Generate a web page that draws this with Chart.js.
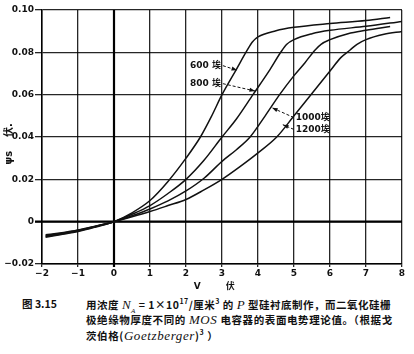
<!DOCTYPE html>
<html>
<head>
<meta charset="utf-8">
<script src="https://cdn.jsdelivr.net/npm/chart.js@4.4.1/dist/chart.umd.min.js"></script>
<style>
  body { margin: 0; background: #fff; width: 414px; height: 354px; overflow: hidden; position: relative; }
  #box { position: absolute; left: 0; top: 0; width: 414px; height: 292px; }
  .cap { position: absolute; white-space: nowrap; font-family: "Noto Sans CJK SC", sans-serif; font-weight: 700; font-size: 10.5px; color: #111; }
  .cap i { font-family: "Liberation Serif", serif; font-size: 13px; font-weight: 400; }
  .cap sup { font-size: 7px; }
  .cap sub { font-size: 7px; }
</style>
</head>
<body>
<div id="box"><canvas id="surfChart"></canvas></div>
<div class="cap" style="left:22px; top:296px;">图 3.15</div>
<div class="cap" style="left:86px; top:296px; letter-spacing:0.5px;">用浓度 <i>N<sub>A</sub></i> = 1×10<sup>17</sup>/厘米<sup>3</sup> 的 <i>P</i> 型硅衬底制作，而二氧化硅栅</div>
<div class="cap" style="left:86px; top:312px; letter-spacing:0.6px;">极绝缘物厚度不同的 <i>MOS</i> 电容器的表面电势理论值。（根据戈</div>
<div class="cap" style="left:86px; top:327px; letter-spacing:0.6px;">茨伯格(<i>Goetzberger</i>)<sup>3</sup> ）</div>
<script>
// oxide thickness 600 A
var x600 = [-1.9, -1.5, -1, -0.5, 0, 0.5, 1, 1.5, 2, 2.4, 2.7, 3, 3.4, 3.7, 3.85, 4, 4.5, 5, 6, 7, 7.67];
var y600 = [-0.0074, -0.0062, -0.0047, -0.0025, 0, 0.0042, 0.01, 0.019, 0.03, 0.04, 0.0495, 0.06, 0.072, 0.081, 0.085, 0.0873, 0.0902, 0.0918, 0.0936, 0.095, 0.0965];
// 800 A
var x800 = [-1.9, -1.5, -1, -0.5, 0, 0.5, 1, 1.5, 2, 2.5, 3, 3.4, 3.86, 4.3, 4.65, 4.8, 5, 5.5, 6, 7, 8];
var y800 = [-0.007, -0.0059, -0.0044, -0.0023, 0, 0.0035, 0.0076, 0.0133, 0.02, 0.029, 0.04, 0.0485, 0.06, 0.071, 0.0805, 0.0838, 0.086, 0.0888, 0.0904, 0.0923, 0.0946];
// 1000 A
var x1000 = [-1.9, -1.5, -1, -0.5, 0, 0.5, 1, 1.5, 2, 2.5, 3, 3.4, 3.78, 4.2, 4.6, 5, 5.3, 5.58, 5.75, 6, 6.5, 7, 7.67];
var y1000 = [-0.0066, -0.0056, -0.0041, -0.0021, 0, 0.0028, 0.006, 0.0098, 0.0145, 0.0205, 0.0285, 0.034, 0.04, 0.05, 0.06, 0.069, 0.075, 0.081, 0.0838, 0.086, 0.0888, 0.0904, 0.0922];
// 1200 A
var x1200 = [-1.9, -1.5, -1, -0.5, 0, 0.5, 1, 1.5, 2, 2.5, 3, 3.5, 4, 4.52, 5, 5.47, 6, 6.3, 6.55, 6.75, 7, 7.5, 8];
var y1200 = [-0.0062, -0.0053, -0.0039, -0.002, 0, 0.0023, 0.0048, 0.0076, 0.0105, 0.015, 0.02, 0.026, 0.0325, 0.04, 0.05, 0.06, 0.0712, 0.0775, 0.081, 0.0838, 0.086, 0.0885, 0.0899];

function pts(xs, ys) {
  return xs.map(function(x, i) { return { x: x, y: ys[i] }; });
}

function curve(xs, ys) {
  return {
    data: pts(xs, ys),
    borderColor: '#111',
    borderWidth: 1.5,
    pointRadius: 0,
    fill: false,
    cubicInterpolationMode: 'monotone'
  };
}

// thickness labels with dashed arrows (data coords)
var notes = [
  { text: '600 埃', x: 2.11, y: 0.0737, tx: 3.42, ty: 0.0715, side: 'left' },
  { text: '800 埃', x: 2.11, y: 0.0652, tx: 3.92, ty: 0.0617, side: 'left' },
  { text: '1000埃', x: 5.05, y: 0.0492, tx: 4.39, ty: 0.0538, side: 'right' },
  { text: '1200埃', x: 5.05, y: 0.0436, tx: 4.69, ty: 0.0458, side: 'right' }
];

var notePlugin = {
  id: 'notes',
  afterDatasetsDraw: function(chart) {
    var c = chart.ctx, xs = chart.scales.x, ys = chart.scales.y;
    c.save();
    c.font = 'bold 9px "DejaVu Sans", "Noto Sans CJK SC"';
    c.textBaseline = 'middle';
    c.fillStyle = '#111';
    c.strokeStyle = '#111';
    notes.forEach(function(n) {
      var px = xs.getPixelForValue(n.x), py = ys.getPixelForValue(n.y);
      var hx = xs.getPixelForValue(n.tx), hy = ys.getPixelForValue(n.ty);
      c.textAlign = 'left';
      c.fillText(n.text, px, py);
      var sx = n.side === 'left' ? px + c.measureText(n.text).width + 2 : px - 2;
      c.setLineDash([3, 2]);
      c.lineWidth = 1;
      c.beginPath();
      c.moveTo(sx, py);
      c.lineTo(hx, hy);
      c.stroke();
      c.setLineDash([]);
      var a = Math.atan2(hy - py, hx - sx);
      c.beginPath();
      c.moveTo(hx, hy);
      c.lineTo(hx - 6 * Math.cos(a - 0.35), hy - 6 * Math.sin(a - 0.35));
      c.lineTo(hx - 6 * Math.cos(a + 0.35), hy - 6 * Math.sin(a + 0.35));
      c.closePath();
      c.fill();
    });
    c.restore();
  }
};

// heavier zero lines
var zeroPlugin = {
  id: 'zeroLines',
  beforeDatasetsDraw: function(chart) {
    var c = chart.ctx, a = chart.chartArea;
    var x0 = chart.scales.x.getPixelForValue(0);
    var y0 = chart.scales.y.getPixelForValue(0);
    c.save();
    c.strokeStyle = '#000';
    c.lineWidth = 2.2;
    c.beginPath();
    c.moveTo(a.left - 7, y0); c.lineTo(a.right, y0);
    c.moveTo(x0, a.top); c.lineTo(x0, a.bottom + 3);
    c.stroke();
    c.restore();
  }
};

new Chart(document.getElementById('surfChart'), {
  type: 'scatter',
  data: {
    datasets: [curve(x600, y600), curve(x800, y800), curve(x1000, y1000), curve(x1200, y1200)]
  },
  options: {
    responsive: true,
    maintainAspectRatio: false,
    animation: false,
    showLine: true,
    layout: { padding: { left: 0, top: 10, right: 12, bottom: 0 } },
    plugins: { legend: { display: false }, tooltip: { enabled: false } },
    scales: {
      x: {
        type: 'linear',
        min: -2,
        max: 8,
        afterFit: function(s) { s.height = 28; },
        grid: { color: 'rgba(0,0,0,0.85)', lineWidth: 1.3, tickLength: 3 },
        border: { color: '#000', width: 1.5 },
        ticks: {
          stepSize: 1,
          color: '#111',
          padding: 1,
          maxRotation: 0,
          font: { family: 'DejaVu Sans', size: 9, weight: 'bold' },
          callback: function(v) { return v < 0 ? '−' + Math.abs(v) : String(v); }
        },
        title: {
          display: true,
          text: 'V        伏     ',
          color: '#111',
          padding: { top: 0, bottom: 0 },
          font: { family: '"DejaVu Sans", "Noto Sans CJK SC"', size: 9, weight: 'bold' }
        }
      },
      y: {
        type: 'linear',
        min: -0.02,
        max: 0.10,
        afterFit: function(s) { s.width = 42; },
        grid: { color: 'rgba(0,0,0,0.85)', lineWidth: 1.3, tickLength: 7 },
        border: { color: '#000', width: 1.5 },
        ticks: {
          stepSize: 0.02,
          color: '#111',
          padding: 1,
          font: { family: 'DejaVu Sans', size: 9, weight: 'bold' },
          callback: function(v) {
            if (Math.abs(v) < 1e-9) return '0';
            return v < 0 ? '−' + Math.abs(v).toFixed(2) : v.toFixed(2);
          }
        },
        title: {
          display: true,
          text: 'ψs    伏.    ',
          color: '#111',
          padding: { top: 3, bottom: 0 },
          font: { family: '"DejaVu Sans", "Noto Sans CJK SC"', size: 10, weight: 'bold' }
        }
      }
    }
  },
  plugins: [zeroPlugin, notePlugin]
});
</script>
</body>
</html>
